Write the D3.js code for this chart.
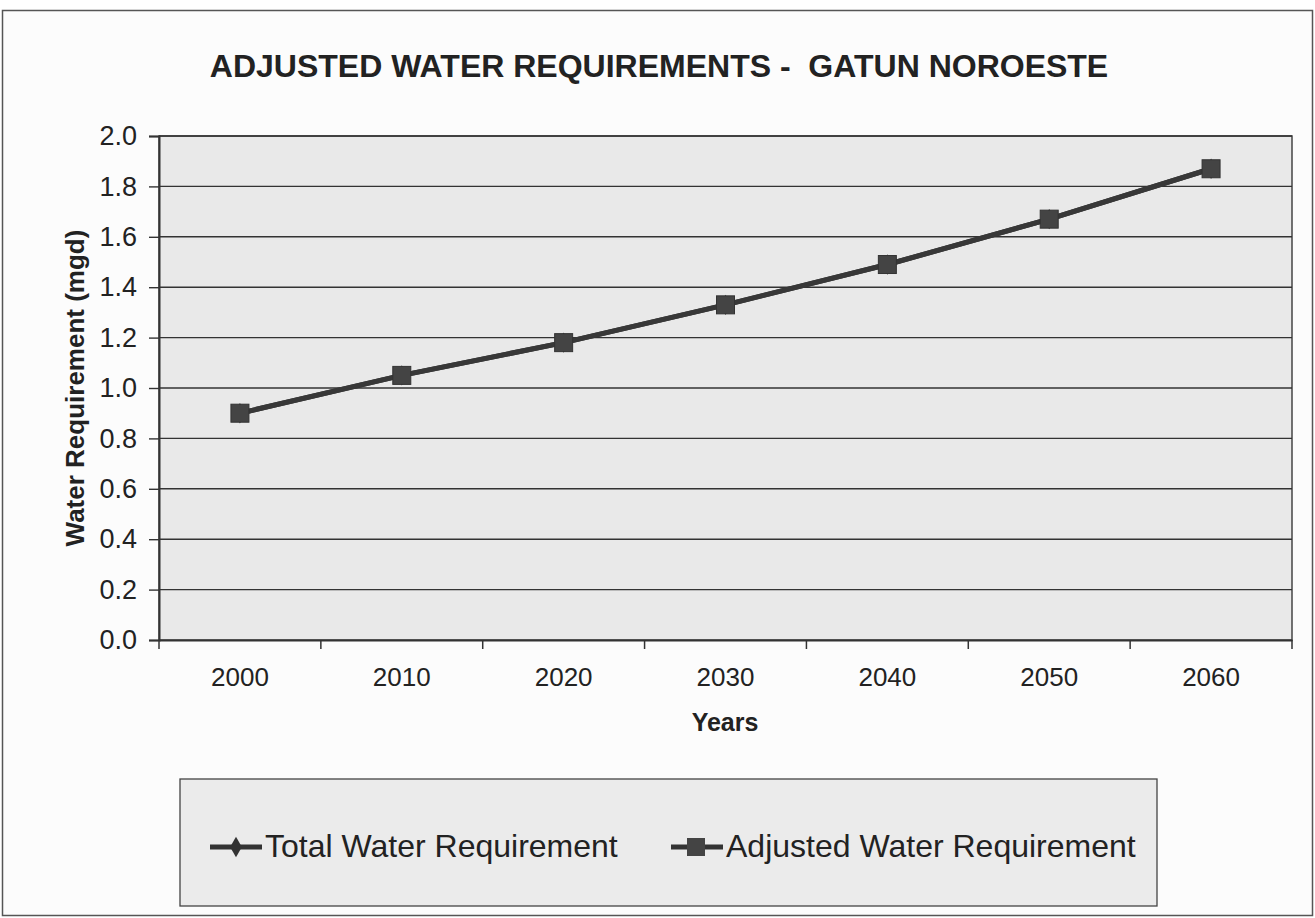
<!DOCTYPE html>
<html><head><meta charset="utf-8">
<script src="https://cdn.jsdelivr.net/npm/d3@7"></script>
<style>body{margin:0;background:#fff;} text{font-family:"Liberation Sans",Arial,sans-serif;fill:#222;}</style>
</head><body>
<svg id="c" width="1315" height="918"></svg>
<script>
const years = ["2000","2010","2020","2030","2040","2050","2060"];
const totalWater = [0.90, 1.05, 1.18, 1.33, 1.49, 1.67, 1.87];
const adjustedWater = [0.90, 1.05, 1.18, 1.33, 1.49, 1.67, 1.87];
const yTicks = [0,0.2,0.4,0.6,0.8,1.0,1.2,1.4,1.6,1.8,2.0];
const seriesNames = ["Total Water Requirement","Adjusted Water Requirement"];

const svg = d3.select("#c");
const FF = "Liberation Sans, Arial, sans-serif";
// outer frame
svg.append("rect").attr("x",2.5).attr("y",10.5).attr("width",1310).attr("height",905)
  .attr("fill","#fcfcfc").attr("stroke","#555").attr("stroke-width",1.5);

const L=159, R=1292, T=136, B=640;
const x = d3.scaleBand().domain(years).range([L,R]);
const y = d3.scaleLinear().domain([0,2]).range([B,T]);

svg.append("rect").attr("x",L).attr("y",T).attr("width",R-L).attr("height",B-T)
  .attr("fill","#e9e9e9").attr("stroke","#444").attr("stroke-width",1.5);

// gridlines
svg.append("g").selectAll("line").data(yTicks.filter(d=>d>0)).join("line")
  .attr("x1",L).attr("x2",R).attr("y1",d=>y(d)).attr("y2",d=>y(d))
  .attr("stroke","#333").attr("stroke-width",1.4);

// y axis
const ya = svg.append("g").attr("transform",`translate(${L},0)`)
  .call(d3.axisLeft(y).tickValues(yTicks).tickFormat(d3.format(".1f")).tickSize(10).tickPadding(12));
ya.select(".domain").attr("stroke","#333").attr("stroke-width",2);
ya.selectAll(".tick line").attr("stroke","#333").attr("stroke-width",1.4);
ya.selectAll(".tick text").attr("font-size",27).attr("fill","#222").style("font-family",FF);

// x axis
const xa = svg.append("g").attr("transform",`translate(0,${B})`)
  .call(d3.axisBottom(x).tickSize(0));
xa.select(".domain").attr("stroke","#333").attr("stroke-width",2);
xa.selectAll(".tick text").attr("font-size",26).attr("fill","#222").style("font-family",FF)
  .attr("dy",null).attr("y",46);
// category boundary ticks
const bounds = years.map(d=>x(d)).concat([x(years[years.length-1])+x.bandwidth()]);
svg.append("g").selectAll("line").data(bounds).join("line")
  .attr("x1",d=>d).attr("x2",d=>d).attr("y1",B).attr("y2",B+9)
  .attr("stroke","#333").attr("stroke-width",1.5);

const cx = d=>x(d)+x.bandwidth()/2;
const line = d3.line().x((d,i)=>cx(years[i])).y(d=>y(d));

// total series (underneath)
svg.append("path").datum(totalWater).attr("d",line).attr("fill","none")
  .attr("stroke","#333").attr("stroke-width",5);
svg.append("g").selectAll("path").data(totalWater).join("path")
  .attr("d",d3.symbol(d3.symbolDiamond,120)())
  .attr("transform",(d,i)=>`translate(${cx(years[i])},${y(d)})`).attr("fill","#333");
// adjusted series
svg.append("path").datum(adjustedWater).attr("d",line).attr("fill","none")
  .attr("stroke","#383838").attr("stroke-width",5);
svg.append("g").selectAll("rect").data(adjustedWater).join("rect")
  .attr("x",(d,i)=>cx(years[i])-9).attr("y",d=>y(d)-9).attr("width",18).attr("height",18)
  .attr("fill","#444").attr("stroke","#333").attr("stroke-width",1);

// titles
svg.append("text").attr("x",659).attr("y",77).attr("text-anchor","middle")
  .attr("font-size",32).attr("font-weight","bold").style("white-space","pre")
  .text("ADJUSTED WATER REQUIREMENTS -  GATUN NOROESTE");
svg.append("text").attr("x",725).attr("y",731).attr("text-anchor","middle")
  .attr("font-size",25).attr("font-weight","bold").text("Years");
svg.append("text").attr("transform","translate(84,388) rotate(-90)").attr("text-anchor","middle")
  .attr("font-size",26).attr("font-weight","bold").text("Water Requirement (mgd)");

// legend
svg.append("rect").attr("x",180).attr("y",779).attr("width",977).attr("height",127)
  .attr("fill","#ebebeb").attr("stroke","#444").attr("stroke-width",1.3);
const lg = svg.append("g");
const items = [{name:seriesNames[0],x:210,sym:"diamond"},{name:seriesNames[1],x:671,sym:"square"}];
items.forEach(it=>{
  const ly=847;
  lg.append("line").attr("x1",it.x).attr("x2",it.x+52).attr("y1",ly).attr("y2",ly).attr("stroke","#333").attr("stroke-width",5);
  if(it.sym==="diamond"){
    lg.append("path").attr("d",d3.symbol(d3.symbolDiamond,120)()).attr("transform",`translate(${it.x+26},${ly})`).attr("fill","#333");
  } else {
    lg.append("rect").attr("x",it.x+16).attr("y",ly-9).attr("width",18).attr("height",18).attr("fill","#444");
  }
  lg.append("text").attr("x",it.x+55).attr("y",ly+10).attr("font-size",32).text(it.name);
});
</script>
</body></html>
